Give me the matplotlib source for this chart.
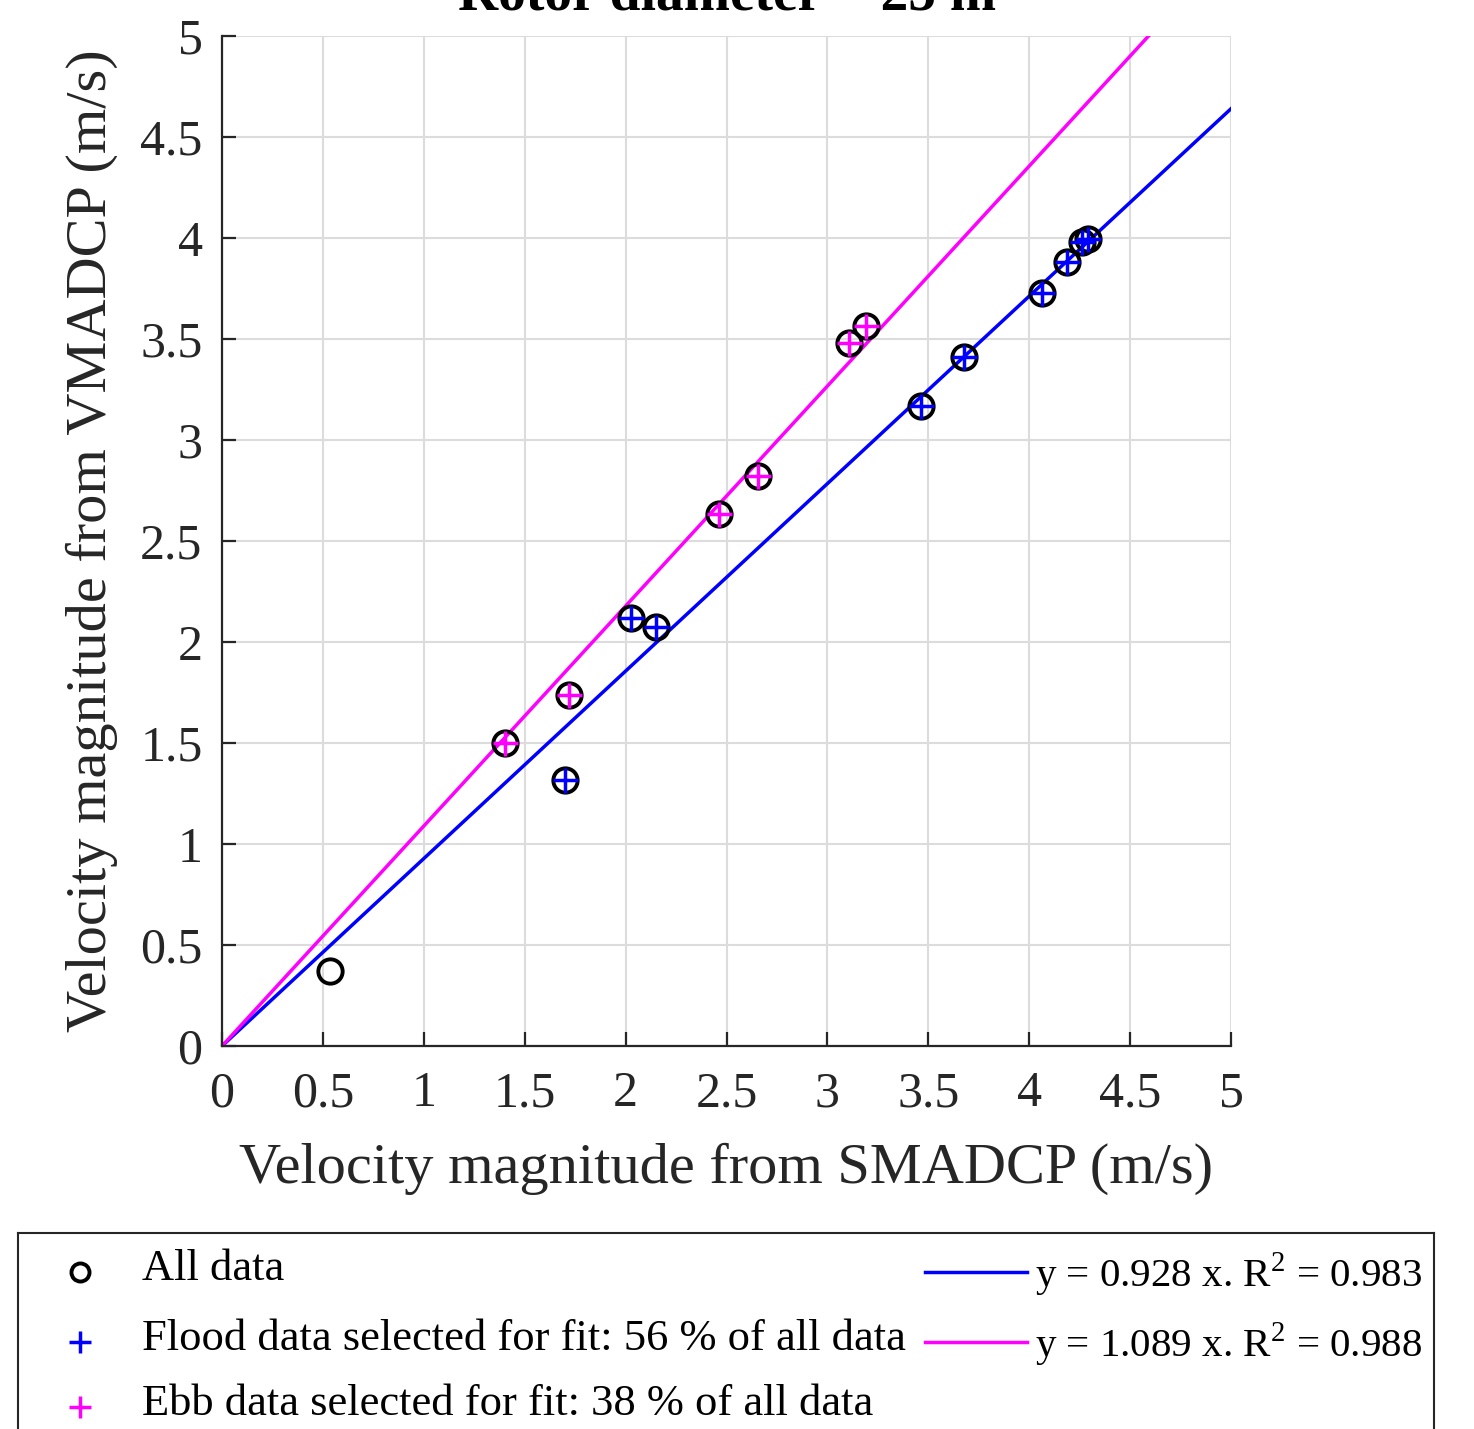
import matplotlib
matplotlib.use("Agg")
import matplotlib.pyplot as plt
import numpy as np

plt.rcParams['font.family'] = ['Liberation Serif', 'DejaVu Serif']
plt.rcParams['mathtext.fontset'] = 'custom'
plt.rcParams['mathtext.rm'] = 'Liberation Serif'

# ---- data ----
all_x = [0.535, 1.402, 1.720, 1.700, 2.027, 2.151, 2.463, 2.656, 3.107, 3.191,
         3.464, 3.677, 4.063, 4.187, 4.262, 4.291]
all_y = [0.371, 1.500, 1.738, 1.317, 2.119, 2.074, 2.634, 2.822, 3.480, 3.564,
         3.168, 3.411, 3.728, 3.881, 3.980, 3.995]
flood_x = [1.700, 2.027, 2.151, 3.464, 3.677, 4.063, 4.187, 4.262, 4.291]
flood_y = [1.317, 2.119, 2.074, 3.168, 3.411, 3.728, 3.881, 3.980, 3.995]
ebb_x = [1.402, 1.720, 2.463, 2.656, 3.107, 3.191]
ebb_y = [1.500, 1.738, 2.634, 2.822, 3.480, 3.564]
flood_slope, flood_r2 = 0.928, 0.983
ebb_slope, ebb_r2 = 1.089, 0.988
flood_pct, ebb_pct = 56, 38
fit_x = [0, 5]
ticks = [0, 0.5, 1, 1.5, 2, 2.5, 3, 3.5, 4, 4.5, 5]
tick_labels = ['0', '0.5', '1', '1.5', '2', '2.5', '3', '3.5', '4', '4.5', '5']

W, H = 1474, 1429
fig = plt.figure(figsize=(W / 100, H / 100), dpi=100)

def fx(px):
    return px / W

def fy(py):
    return 1 - py / H

ax = fig.add_axes([fx(222), fy(1046), fx(1231) - fx(222), fy(36) - fy(1046)])

blue = '#0000ff'
mag = '#ff00ff'

ax.plot(fit_x, [flood_slope * v for v in fit_x], color=blue, lw=2.5, zorder=2)
ax.plot(fit_x, [ebb_slope * v for v in fit_x], color=mag, lw=2.5, zorder=2)
ax.plot(all_x, all_y, 'o', mfc='none', mec='black', ms=17.5, mew=2.8, zorder=3)
ax.plot(flood_x, flood_y, '+', color=blue, ms=18, mew=2.5, zorder=4)
ax.plot(ebb_x, ebb_y, '+', color=mag, ms=18, mew=2.5, zorder=4)

ax.set_xlim(0, 5)
ax.set_ylim(0, 5)
ax.set_xticks(ticks)
ax.set_yticks(ticks)
ax.set_xticklabels(tick_labels)
ax.set_yticklabels(tick_labels)
ax.grid(True, color='#dcdcdc', lw=1.5, zorder=0)
ax.set_axisbelow(True)
for s in ['top', 'right']:
    ax.spines[s].set_visible(False)
for s in ['left', 'bottom']:
    ax.spines[s].set_color('#262626')
    ax.spines[s].set_linewidth(1.6)
ax.tick_params(direction='in', length=10, width=1.6, color='#262626',
               labelsize=36, labelcolor='#262626')
ax.tick_params(axis='x', pad=18)
ax.tick_params(axis='y', pad=14)
ax.set_xlabel('Velocity magnitude from SMADCP (m/s)', fontsize=42, color='#262626', labelpad=18)
ax.set_ylabel('Velocity magnitude from VMADCP (m/s)', fontsize=42, color='#262626', labelpad=16)

fig.text(fx(727), fy(10), 'Rotor diameter = 25 m', fontsize=40, fontweight='bold',
         ha='center', va='baseline')

# ---- legend box ----
lax = fig.add_axes([fx(18), fy(1450), fx(1434) - fx(18), fy(1233) - fy(1450)])
lax.set_xlim(18, 1434)
lax.set_ylim(1450, 1233)
lax.set_xticks([])
lax.set_yticks([])
for s in lax.spines.values():
    s.set_color('#262626')
    s.set_linewidth(1.5)

lfs = 32
lax.plot([80], [1272], 'o', mfc='none', mec='black', ms=13, mew=2.8)
lax.text(142, 1269, 'All data', fontsize=lfs, va='center', ha='left')
lax.plot([80], [1342], '+', color=blue, ms=16, mew=2.5)
lax.text(142, 1339, 'Flood data selected for fit: %d %% of all data' % flood_pct,
         fontsize=lfs, va='center', ha='left')
lax.plot([80], [1407], '+', color=mag, ms=16, mew=2.5)
lax.text(142, 1404, 'Ebb data selected for fit: %d %% of all data' % ebb_pct,
         fontsize=lfs, va='center', ha='left')
rfs = 29.5
lax.plot([925, 1027], [1272, 1272], color=blue, lw=2.5)
lax.text(1035, 1275, 'y = %.3f x. R$^{2}$ = %.3f' % (flood_slope, flood_r2),
         fontsize=rfs, va='center', ha='left')
lax.plot([925, 1027], [1342, 1342], color=mag, lw=2.5)
lax.text(1035, 1345, 'y = %.3f x. R$^{2}$ = %.3f' % (ebb_slope, ebb_r2),
         fontsize=rfs, va='center', ha='left')

fig.savefig('out.png', dpi=100)
